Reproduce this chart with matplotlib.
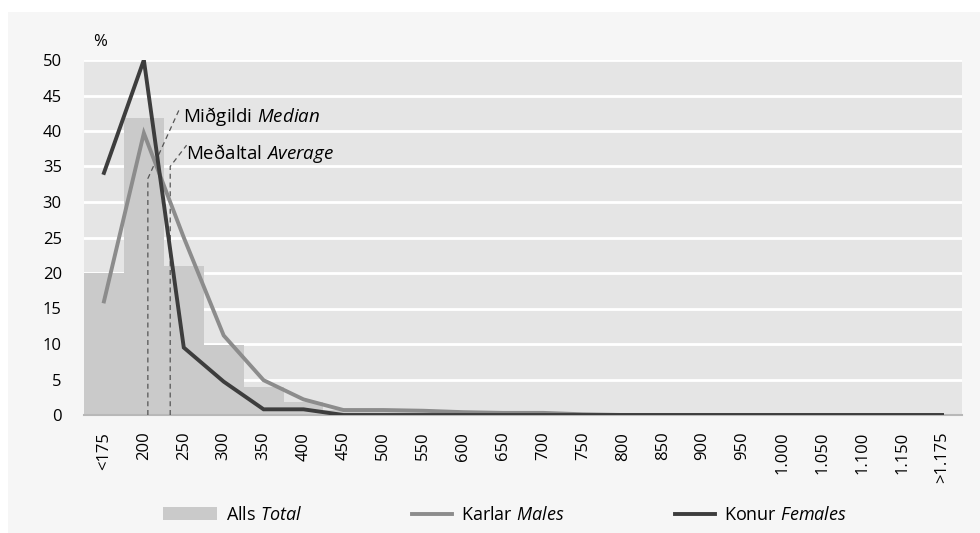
import numpy as np
import matplotlib
matplotlib.use("Agg")
import matplotlib.pyplot as plt
from matplotlib.patches import Rectangle
from matplotlib.lines import Line2D
from matplotlib.legend_handler import HandlerLine2D

plt.rcParams['font.family'] = ['Open Sans', 'DejaVu Sans']
plt.rcParams['mathtext.fontset'] = 'custom'
plt.rcParams['mathtext.rm'] = 'Open Sans'
plt.rcParams['mathtext.it'] = 'Open Sans:italic'

flokkar = ["<175", "200", "250", "300", "350", "400", "450", "500", "550", "600",
           "650", "700", "750", "800", "850", "900", "950", "1.000", "1.050",
           "1.100", "1.150", ">1.175"]
alls = [20, 41.8, 21, 9.8, 3.9, 1.9, 0.7, 0.7, 0.6, 0.4, 0.3, 0.3, 0.1, 0.1,
        0, 0, 0, 0, 0, 0, 0, 0]
karlar = [16, 39.7, 25, 11.2, 4.9, 2.2, 0.7, 0.7, 0.6, 0.4, 0.3, 0.3, 0.1, 0,
          0, 0, 0, 0, 0, 0, 0, 0]
konur = [34.1, 50, 9.5, 4.7, 0.8, 0.8, 0, 0, 0, 0, 0, 0, 0, 0,
         0, 0, 0, 0, 0, 0, 0, 0]
midgildi = 1.10
medaltal = 1.66


class StuttLina(HandlerLine2D):
    # styttri lina i skyringum, haegra megin i reitnum
    def get_xdata(self, legend, xdescent, ydescent, width, height, fontsize):
        a = -xdescent + width * 0.26
        b = -xdescent + width
        return np.array([a, b]), np.array([(a + b) / 2])


x = np.arange(len(flokkar))

fig = plt.figure(figsize=(9.8, 5.33), dpi=100, facecolor="white")
fig.patches.append(Rectangle((8 / 980, 0), 1, (533 - 12) / 533, transform=fig.transFigure,
                             facecolor="#f6f6f6", edgecolor="none", zorder=-10))
ax = fig.add_axes([84 / 980, (533 - 415) / 533, (962 - 84) / 980, 355 / 533])
ax.set_facecolor("#e5e5e5")

b = ax.bar(x, alls, width=1.0, color="#cacaca", zorder=2)
l1, = ax.plot(x, karlar, color="#8c8c8c", lw=2.8, zorder=4, solid_joinstyle="miter")
l2, = ax.plot(x, konur, color="#3d3d3d", lw=2.8, zorder=5, solid_joinstyle="miter")

# midgildi / medaltal
ax.plot([midgildi, midgildi, 1.9], [0, 33.3, 43.2], color="#555555", lw=0.9,
        ls=(0, (4, 3)), zorder=3)
ax.plot([medaltal, medaltal, 2.07], [0, 35.0, 38.0], color="#555555", lw=0.9,
        ls=(0, (4, 3)), zorder=3)
ax.text(1.97, 42.0, "Miðgildi$\\ \\it{Median}$", fontsize=13.5, va="center", ha="left")
ax.text(2.06, 36.9, "Meðaltal$\\ \\it{Average}$", fontsize=13.5, va="center", ha="left")

ax.set_xlim(-0.5, len(flokkar) - 0.5)
ax.set_ylim(0, 50)
ax.set_yticks(range(0, 51, 5))
ax.set_xticks(x)
ax.set_xticklabels(flokkar, rotation=90, fontsize=12)
ax.tick_params(axis="y", labelsize=12, length=0, pad=16)
ax.tick_params(axis="x", length=0, pad=12)
ax.grid(axis="y", color="white", lw=2, zorder=1)
ax.set_axisbelow(True)
for s in ["top", "right", "left"]:
    ax.spines[s].set_visible(False)
ax.spines["bottom"].set_color("#b8b8b8")
ax.spines["bottom"].set_linewidth(1.5)

fig.text(100 / 980, (533 - 42) / 533, "%", fontsize=12, ha="center", va="center")

fig.legend([b, l1, l2], ["Alls$\\ \\it{Total}$", "Karlar$\\ \\it{Males}$",
                         "Konur$\\ \\it{Females}$"],
           loc="center", bbox_to_anchor=(0.515, 0.034), ncol=3, frameon=False,
           fontsize=13, handlelength=3.0, columnspacing=5.3, handletextpad=0.5,
           handler_map={Line2D: StuttLina()})
plt.savefig("out.png", dpi=100, facecolor=fig.get_facecolor())
